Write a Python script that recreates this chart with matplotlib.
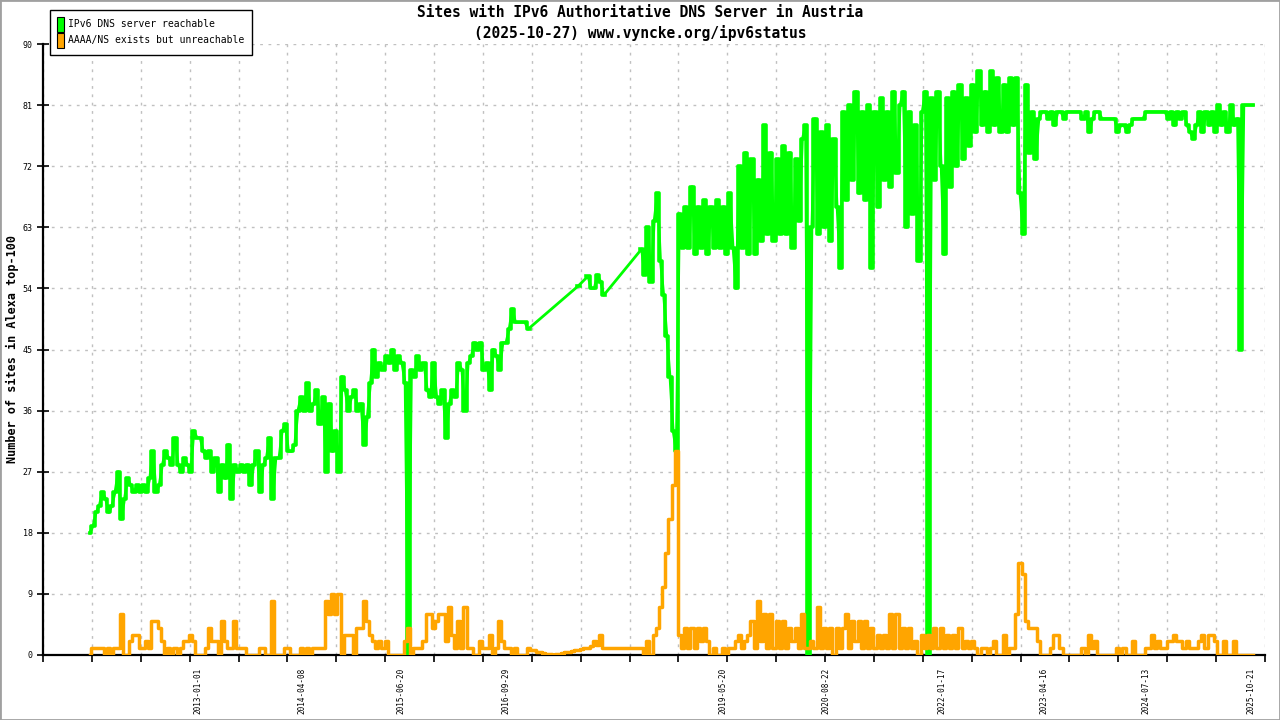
import numpy as np
import matplotlib
matplotlib.use("Agg")
import matplotlib.pyplot as plt
import matplotlib.dates as mdates
from matplotlib.patches import Patch, Rectangle

nan = np.nan

first_day = "2011-09-09"
step_days = 14

reachable = [
    18, 19, 21, 22, 24, 23, 21, 22, 24, 27,
    20, 23, 26, 25, 24, 25, 24, 25, 24, 26,
    30, 24, 25, 28, 30, 29, 28, 32, 28, 27,
    29, 28, 27, 33, 32, 32, 30, 29, 30, 27,
    29, 24, 28, 26, 31, 23, 28, 27, 28, 27,
    28, 25, 28, 30, 24, 28, 29, 32, 23, 29,
    29, 33, 34, 30, 30, 31, 36, 38, 36, 40,
    36, 37, 39, 34, 38, 27, 37, 30, 33, 27,
    41, 39, 36, 38, 39, 36, 37, 31, 35, 40,
    45, 41, 43, 42, 44, 43, 45, 42, 44, 43,
    40, 0, 42, 41, 44, 42, 43, 39, 38, 43,
    38, 37, 39, 32, 37, 39, 38, 43, 42, 36,
    43, 44, 46, 45, 46, 42, 43, 39, 45, 44,
    42, 46, 46, 48, 51, 49, 49, 49, 49, 48,
    nan, nan, nan, nan, nan, nan, nan, nan, nan, nan,
    nan, nan, nan, nan, nan, 54.4, nan, nan, 55.8, 54,
    54, 56, 55, 53, nan, nan, nan, nan, nan, nan,
    nan, nan, nan, nan, nan, 59.8, 56, 63, 55, 64,
    68, 58, 53, 47, 41, 33, 30, 65, 60, 66,
    60, 69, 59, 66, 60, 67, 59, 66, 60, 67,
    60, 66, 59, 68, 60, 54, 72, 60, 74, 59,
    73, 59, 70, 61, 78, 62, 74, 61, 73, 62,
    75, 62, 74, 60, 73, 64, 76, 78, 0, 63,
    79, 62, 77, 63, 78, 61, 76, 66, 57, 80,
    67, 81, 70, 83, 68, 80, 67, 81, 57, 80,
    66, 82, 70, 80, 69, 83, 71, 81, 83, 63,
    80, 65, 78, 58, 80, 83, 0, 82, 70, 83,
    72, 59, 82, 69, 83, 72, 84, 73, 82, 75,
    84, 77, 86, 78, 83, 77, 86, 78, 85, 77,
    84, 77, 85, 78, 85, 68, 62, 84, 74, 80,
    73, 79, 80, 80, 79, 80, 78, 80, 80, 79,
    80, 80, 80, 80, 80, 79, 80, 77, 79, 80,
    80, 79, 79, 79, 79, 79, 77, 78, 78, 77,
    78, 79, 79, 79, 79, 80, 80, 80, 80, 80,
    80, 80, 79, 80, 78, 80, 79, 80, 78, 77,
    76, 78, 80, 77, 80, 78, 80, 77, 81, 78,
    80, 77, 81, 78, 79, 45, 81, 81, 81, 81,
]

unreachable = [
    0, 1, 1, 1, 1, 0, 1, 0, 1, 1,
    6, 0, 0, 2, 3, 3, 1, 1, 2, 1,
    5, 5, 4, 2, 0, 1, 0, 1, 0, 1,
    2, 2, 3, 2, 0, 0, 0, 1, 4, 2,
    2, 0, 5, 2, 1, 1, 5, 1, 1, 1,
    0, 0, 0, 0, 1, 1, 0, 0, 8, 0,
    0, 0, 1, 1, 0, 0, 0, 1, 0, 1,
    0, 1, 1, 1, 1, 8, 6, 9, 6, 9,
    0, 3, 3, 3, 0, 4, 4, 8, 5, 3,
    2, 1, 2, 1, 2, 0, 0, 0, 0, 0,
    2, 4, 0, 1, 1, 1, 2, 6, 6, 4,
    5, 6, 6, 2, 7, 3, 1, 5, 1, 7,
    1, 1, 0, 0, 2, 1, 1, 3, 0, 1,
    5, 2, 1, 1, 0, 1, 0, 0, 0, 1,
    0.8, 0.7, 0.5, 0.4, 0.3, 0.2, 0.1, 0, 0.1, 0.2,
    0.3, 0.4, 0.5, 0.6, 0.7, 0.8, 0.9, 1.0, 1.1, 1.3,
    2, 1.5, 3, 1, 1, 1, 1, 1, 1, 1,
    1, 1, 1, 1, 1, 1, 0, 2, 0, 3,
    4, 7, 10, 15, 20, 25, 30, 3, 1, 4,
    1, 4, 1, 4, 2, 4, 2, 0, 1, 0,
    0, 1, 0, 1, 1, 2, 3, 1, 2, 3,
    5, 1, 8, 2, 6, 1, 6, 1, 5, 1,
    5, 1, 4, 2, 4, 1, 6, 1, 1, 2,
    1, 7, 1, 4, 1, 4, 0, 4, 1, 4,
    6, 1, 5, 2, 5, 1, 5, 1, 4, 1,
    3, 1, 3, 1, 6, 1, 6, 1, 4, 1,
    4, 1, 2, 0, 3, 1, 3, 1, 4, 1,
    4, 1, 3, 1, 3, 1, 4, 1, 2, 1,
    2, 1, 0, 1, 1, 0, 1, 2, 0, 0,
    3, 0, 1, 1, 6, 13.5, 12, 5, 4, 4,
    4, 2, 0, 0, 0, 1, 3, 3, 1, 0,
    0, 0, 0, 0, 0, 1, 0, 3, 1, 2,
    0, 0, 0, 0, 0, 0, 1, 0, 1, 0,
    0, 2, 0, 0, 0, 1, 1, 3, 1, 2,
    1, 1, 2, 2, 3, 2, 2, 1, 2, 1,
    1, 1, 2, 3, 1, 3, 3, 2, 0, 0,
    2, 0, 0, 2, 0, 0, 0, 0, 0, 0,
]

label_dates = ["2013-01-01", "2014-04-08", "2015-06-20", "2016-09-29",
               "2019-05-20", "2020-08-22", "2022-01-17", "2023-04-16",
               "2024-07-13", "2025-10-21"]
y_ticks = list(range(0, 91, 9))

title = "Sites with IPv6 Authoritative DNS Server in Austria\n(2025-10-27) www.vyncke.org/ipv6status"
ylabel = "Number of sites in Alexa top-100"
legend_labels = ["IPv6 DNS server reachable", "AAAA/NS exists but unreachable"]

GREEN = "#00ff00"
ORANGE = "#ffa500"
MONO = "DejaVu Sans Mono"

# ---------------------------------------------------------------------------
green = np.array(reachable, dtype=float)
orange = np.array(unreachable, dtype=float)
dates = np.datetime64(first_day) + np.arange(len(green)) * np.timedelta64(step_days, "D")

fig = plt.figure(figsize=(12.8, 7.2), dpi=100)
ax = fig.add_axes([43 / 1280, 65 / 720, 1222 / 1280, 611 / 720])

# straight segments across the gaps in the green series, then the blocky daily look
ok = ~np.isnan(green)
ax.plot(dates[ok], green[ok], color=GREEN, lw=2.0, zorder=3)
ax.plot(dates, green, color=GREEN, lw=2.6, drawstyle="steps-mid", zorder=3)
ax.plot(dates, orange, color=ORANGE, lw=2.5, drawstyle="steps-mid", zorder=4)

x0, x1 = np.datetime64("2011-02-13"), np.datetime64("2025-12-22")
ax.set_xlim(x0, x1)
ax.set_ylim(0, 90)

# grid ticks: 25 equal steps across the axis
n0, n1 = mdates.date2num(x0), mdates.date2num(x1)
ax.set_xticks(np.linspace(n0, n1, 26), minor=True)
ax.set_xticks(mdates.date2num(np.array(label_dates, dtype="datetime64[D]")))
ax.set_xticklabels(label_dates, rotation=90, family=MONO, fontsize=5.5)
ax.tick_params(axis="x", which="major", length=0, pad=9)
ax.tick_params(axis="x", which="minor", direction="out", length=5, width=1.2, color="black")

ax.set_yticks(y_ticks)
ax.set_yticklabels([str(v) for v in y_ticks], family=MONO, fontsize=6)
ax.tick_params(axis="y", direction="inout", length=9, width=1.2, pad=3)

ax.grid(True, axis="x", which="minor", color="#c0c0c0", linestyle=(0, (2, 4)), lw=1)
ax.grid(True, axis="y", which="major", color="#c0c0c0", linestyle=(0, (2, 4)), lw=1)
ax.grid(False, axis="x", which="major")
ax.set_axisbelow(True)

for side in ("top", "right"):
    ax.spines[side].set_visible(False)
for side in ("left", "bottom"):
    ax.spines[side].set_linewidth(1.6)
    ax.spines[side].set_color("black")

fig.text(0.5, 1 - 23 / 720, title, ha="center", va="center", family=MONO,
         fontsize=10.5, fontweight="bold", linespacing=1.35)
fig.text(12 / 1280, 1 - 349 / 720, ylabel, rotation=90, ha="center", va="center",
         family=MONO, fontsize=8.5, fontweight="bold")

handles = [Patch(facecolor=GREEN, edgecolor="black", lw=0.8, label=legend_labels[0]),
           Patch(facecolor=ORANGE, edgecolor="black", lw=0.8, label=legend_labels[1])]
leg = fig.legend(handles=handles, loc="upper left", bbox_to_anchor=(50 / 1280, 1 - 10 / 720),
                 prop={"family": MONO, "size": 7}, handlelength=0.7, handleheight=2.0,
                 handletextpad=0.5, labelspacing=0.1, borderpad=0.7, borderaxespad=0,
                 fancybox=False, framealpha=1, edgecolor="black")
leg.get_frame().set_linewidth(1.0)

fig.add_artist(Rectangle((0, 0), 1, 1, transform=fig.transFigure, fill=False,
                         edgecolor="#a0a0a0", lw=2))

fig.savefig("out.png", dpi=100)
